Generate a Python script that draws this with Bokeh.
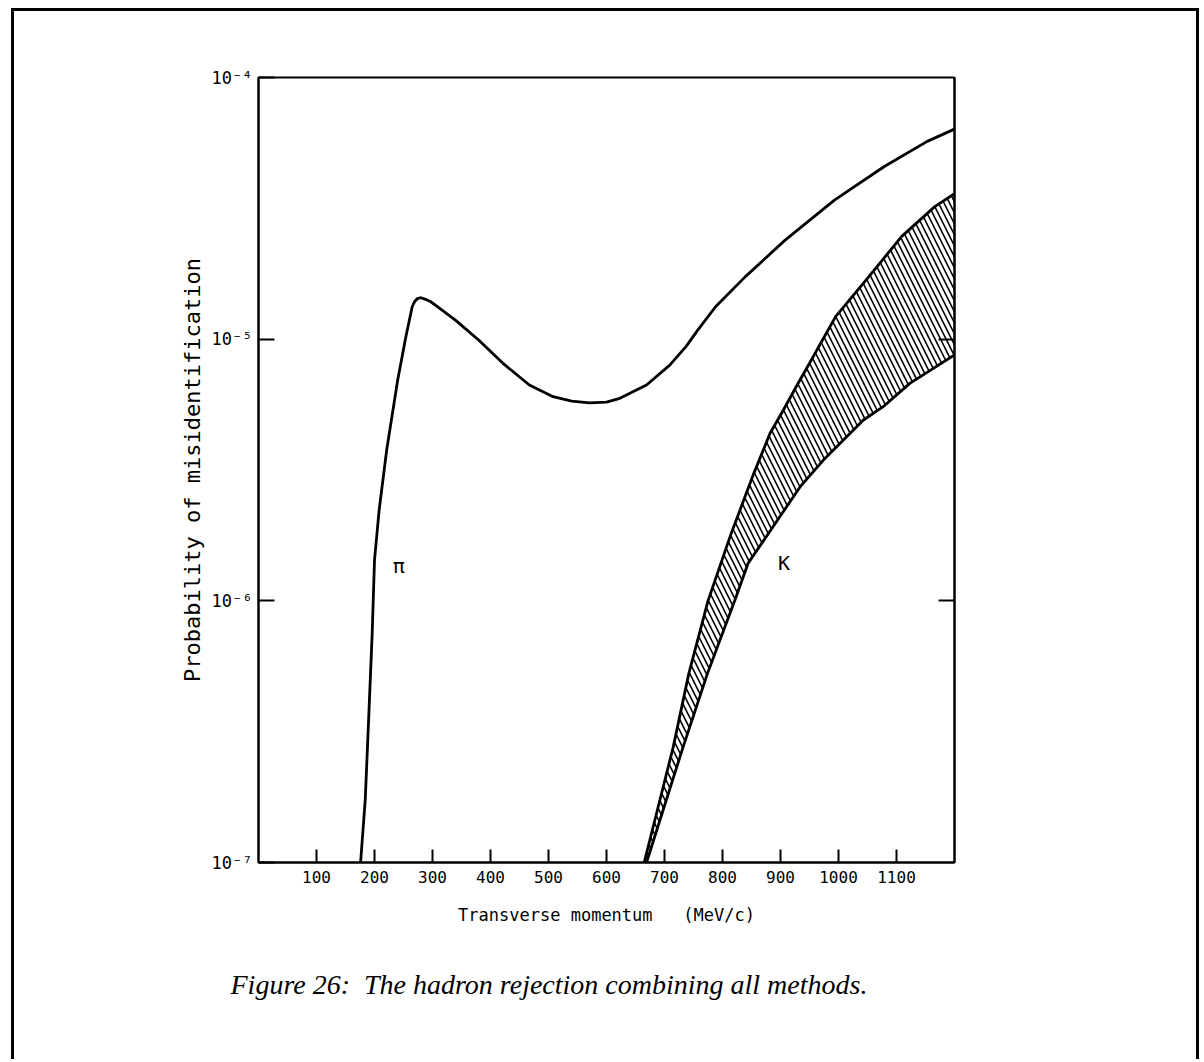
from bokeh.plotting import figure
from bokeh.models import Range1d, FixedTicker, LogAxis, Title
from bokeh.core.properties import value
from bokeh.embed import file_html
from bokeh.resources import INLINE

# --- data -------------------------------------------------------------------
pi_x = [176, 184, 190, 196, 200, 208, 221, 240, 254, 265, 269, 274, 280, 288, 297,
        305, 340, 380, 421, 467, 508, 540, 571, 600, 623, 669, 709, 737, 757, 788, 839,
        908, 993, 1079, 1153, 1200]
pi_y = [1.0e-7, 1.73e-7, 3.57e-7, 7.5e-7, 1.43e-6, 2.22e-6, 3.77e-6, 6.98e-6, 1.02e-5,
        1.33e-5, 1.39e-5, 1.43e-5, 1.44e-5, 1.42e-5, 1.39e-5, 1.35e-5, 1.18e-5, 9.9e-6,
        8.1e-6, 6.68e-6, 6.03e-6, 5.8e-6, 5.71e-6, 5.75e-6, 5.94e-6, 6.68e-6, 7.96e-6,
        9.36e-6, 1.08e-5, 1.33e-5, 1.73e-5, 2.39e-5, 3.4e-5, 4.57e-5, 5.7e-5, 6.35e-5]

k_upper_x = [665, 715, 742, 775, 815, 854, 882, 905, 927, 950, 995, 1052, 1109, 1166, 1200]
k_upper_y = [1.0e-7, 2.76e-7, 5.28e-7, 1.0e-6, 1.81e-6, 3.07e-6, 4.37e-6, 5.36e-6,
             6.58e-6, 8.09e-6, 1.22e-5, 1.73e-5, 2.47e-5, 3.21e-5, 3.6e-5]

k_lower_x = [669, 732, 774, 821, 844, 883, 934, 974, 1043, 1077, 1123, 1200]
k_lower_y = [1.0e-7, 2.76e-7, 5.27e-7, 1.0e-6, 1.39e-6, 1.86e-6, 2.73e-6, 3.45e-6,
             4.91e-6, 5.52e-6, 6.78e-6, 8.7e-6]

x_ticks = [100, 200, 300, 400, 500, 600, 700, 800, 900, 1000, 1100]
y_ticks = [1e-7, 1e-6, 1e-5, 1e-4]
y_tick_labels = ["10\u207b\u2077", "10\u207b\u2076", "10\u207b\u2075", "10\u207b\u2074"]
right_ticks = [1e-6, 1e-5]

curve_label_x = [242, 906]
curve_label_y = [1.36e-6, 1.39e-6]
curve_label_text = ["\u03c0", "K"]

x_title = "Transverse momentum\u00a0\u00a0\u00a0(MeV/c)"
y_title = "Probability of misidentification"
caption = "Figure 26:\u00a0\u00a0The hadron rejection combining all methods."

FONT = "DejaVu Sans Mono"

# --- figure -----------------------------------------------------------------
p = figure(width=1188, height=1051, title=None,
           x_range=Range1d(0, 1200), y_range=Range1d(1e-7, 1e-4),
           y_axis_type="log", output_backend="svg", toolbar_location=None,
           min_border_left=244, min_border_right=248,
           min_border_top=66, min_border_bottom=200,
           margin=(8, 0, 0, 11))
p.styles = {"border-left": "3px solid black", "border-top": "3px solid black",
            "border-right": "3px solid black"}
p.background_fill_color = "white"
p.border_fill_color = "white"
p.outline_line_color = "black"
p.outline_line_width = 2
p.xgrid.grid_line_color = None
p.ygrid.grid_line_color = None

xa = p.xaxis[0]
xa.ticker = FixedTicker(ticks=x_ticks)
xa.major_tick_in = 13
xa.major_tick_out = 0
xa.minor_tick_line_color = None
xa.axis_line_color = "black"
xa.axis_line_width = 2
xa.major_tick_line_width = 2
xa.major_label_text_font = FONT
xa.major_label_text_font_size = "16px"
xa.major_label_text_color = "black"
xa.major_label_standoff = 8
xa.axis_label = x_title
xa.axis_label_text_font = FONT
xa.axis_label_text_font_size = "17px"
xa.axis_label_text_font_style = "normal"
xa.axis_label_text_color = "black"
xa.axis_label_standoff = 19

ya = p.yaxis[0]
ya.ticker = FixedTicker(ticks=y_ticks)
ya.major_label_overrides = dict(zip(y_ticks, y_tick_labels))
ya.major_tick_in = 16
ya.major_tick_out = 0
ya.minor_tick_line_color = None
ya.axis_line_color = "black"
ya.axis_line_width = 2
ya.major_tick_line_width = 2
ya.major_label_text_font = FONT
ya.major_label_text_font_size = "17px"
ya.major_label_text_color = "black"
ya.major_label_standoff = 6
ya.axis_label = y_title
ya.axis_label_text_font = FONT
ya.axis_label_text_font_size = "22px"
ya.axis_label_text_font_style = "normal"
ya.axis_label_text_color = "black"
ya.axis_label_standoff = 4

ra = LogAxis(ticker=FixedTicker(ticks=right_ticks))
ra.major_tick_in = 16
ra.major_tick_out = 0
ra.minor_tick_line_color = None
ra.axis_line_color = "black"
ra.axis_line_width = 2
ra.major_tick_line_width = 2
ra.major_label_text_font_size = "0px"
ra.major_label_text_color = None
p.add_layout(ra, "right")

# --- hatched K band ---------------------------------------------------------
band_x = k_upper_x + k_lower_x[::-1]
band_y = k_upper_y + k_lower_y[::-1]
p.patch(band_x, band_y, fill_color=None, line_color=None,
        hatch_pattern="\\", hatch_color="black", hatch_scale=11, hatch_weight=1.6)

p.line(k_upper_x, k_upper_y, line_color="black", line_width=2.8)
p.line(k_lower_x, k_lower_y, line_color="black", line_width=2.8)
p.line(pi_x, pi_y, line_color="black", line_width=2.8)

p.text(curve_label_x, curve_label_y, text=curve_label_text,
       text_font=value(FONT), text_font_size="20px", text_color="black",
       text_align="center", text_baseline="middle")

# --- caption ----------------------------------------------------------------
p.add_layout(Title(text=caption, align="left", offset=-28, standoff=78,
                   text_font="Liberation Serif", text_font_style="italic",
                   text_font_size="28px", text_color="black"), "below")

open("out.html", "w").write(file_html(p, INLINE))
